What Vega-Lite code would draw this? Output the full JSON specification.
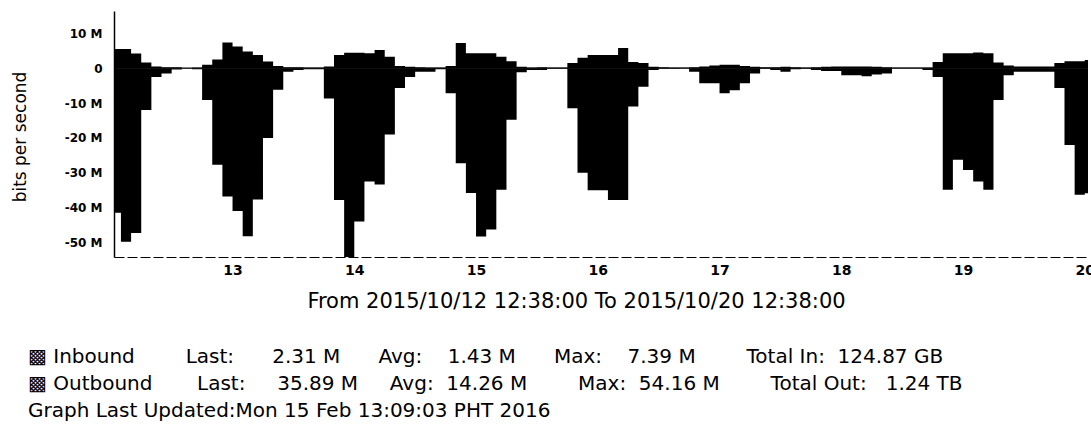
{
  "$schema": "https://vega.github.io/schema/vega-lite/v6.json",
  "width": 974,
  "height": 246,
  "autosize": {"type": "none"},
  "padding": {"left": 114, "top": 11, "right": 3, "bottom": 168},
  "background": "white",
  "config": {"font": "DejaVu Sans", "view": {"stroke": null}},
  "title": {
    "text": [
      "▩\u00a0Inbound\u00a0\u00a0\u00a0\u00a0\u00a0\u00a0\u00a0\u00a0Last:\u00a0\u00a0\u00a0\u00a0\u00a0\u00a02.31\u00a0M\u00a0\u00a0\u00a0\u00a0\u00a0\u00a0Avg:\u00a0\u00a0\u00a0\u00a01.43\u00a0M\u00a0\u00a0\u00a0\u00a0\u00a0\u00a0Max:\u00a0\u00a0\u00a0\u00a07.39\u00a0M\u00a0\u00a0\u00a0\u00a0\u00a0\u00a0\u00a0\u00a0Total\u00a0In:\u00a0\u00a0124.87\u00a0GB",
      "▩\u00a0Outbound\u00a0\u00a0\u00a0\u00a0\u00a0\u00a0\u00a0Last:\u00a0\u00a0\u00a0\u00a0\u00a035.89\u00a0M\u00a0\u00a0\u00a0\u00a0\u00a0Avg:\u00a0\u00a014.26\u00a0M\u00a0\u00a0\u00a0\u00a0\u00a0\u00a0\u00a0\u00a0Max:\u00a0\u00a054.16\u00a0M\u00a0\u00a0\u00a0\u00a0\u00a0\u00a0\u00a0\u00a0Total\u00a0Out:\u00a0\u00a0\u00a01.24\u00a0TB",
      "\u00a0Graph Last Updated:Mon 15 Feb 13:09:03 PHT 2016"
    ],
    "orient": "bottom",
    "anchor": "start",
    "frame": "group",
    "dx": -86,
    "offset": 36,
    "fontSize": 20,
    "fontWeight": "normal",
    "font": "DejaVu Sans",
    "lineHeight": 27,
    "color": "black"
  },
  "datasets": {
    "outbound": [
      {"t": "2015-10-12T12:38", "v": -41.5},
      {"t": "2015-10-12T14:00", "v": -49.8},
      {"t": "2015-10-12T16:00", "v": -47.3},
      {"t": "2015-10-12T18:00", "v": -12},
      {"t": "2015-10-12T20:00", "v": -2.5},
      {"t": "2015-10-12T22:00", "v": -1.5},
      {"t": "2015-10-13T00:00", "v": -0.4},
      {"t": "2015-10-13T02:00", "v": -0.1},
      {"t": "2015-10-13T04:00", "v": -0.3},
      {"t": "2015-10-13T06:00", "v": -9.1},
      {"t": "2015-10-13T08:00", "v": -27.7},
      {"t": "2015-10-13T10:00", "v": -36.8},
      {"t": "2015-10-13T12:00", "v": -41},
      {"t": "2015-10-13T14:00", "v": -48.2},
      {"t": "2015-10-13T16:00", "v": -37.7},
      {"t": "2015-10-13T18:00", "v": -20},
      {"t": "2015-10-13T20:00", "v": -6.2},
      {"t": "2015-10-13T22:00", "v": -1},
      {"t": "2015-10-14T00:00", "v": -0.5},
      {"t": "2015-10-14T02:00", "v": -0.3},
      {"t": "2015-10-14T04:00", "v": -0.3},
      {"t": "2015-10-14T06:00", "v": -8.7},
      {"t": "2015-10-14T08:00", "v": -37.8},
      {"t": "2015-10-14T10:00", "v": -54.16},
      {"t": "2015-10-14T12:00", "v": -44},
      {"t": "2015-10-14T14:00", "v": -32.5},
      {"t": "2015-10-14T16:00", "v": -33.4},
      {"t": "2015-10-14T18:00", "v": -19},
      {"t": "2015-10-14T20:00", "v": -5.7},
      {"t": "2015-10-14T22:00", "v": -2.5},
      {"t": "2015-10-15T00:00", "v": -1},
      {"t": "2015-10-15T02:00", "v": -1},
      {"t": "2015-10-15T04:00", "v": -0.3},
      {"t": "2015-10-15T06:00", "v": -7.2},
      {"t": "2015-10-15T08:00", "v": -27.3},
      {"t": "2015-10-15T10:00", "v": -35.8},
      {"t": "2015-10-15T12:00", "v": -48.3},
      {"t": "2015-10-15T14:00", "v": -46.3},
      {"t": "2015-10-15T16:00", "v": -34.9},
      {"t": "2015-10-15T18:00", "v": -14.8},
      {"t": "2015-10-15T20:00", "v": -1.2},
      {"t": "2015-10-15T22:00", "v": -0.5},
      {"t": "2015-10-16T00:00", "v": -0.5},
      {"t": "2015-10-16T02:00", "v": -0.2},
      {"t": "2015-10-16T04:00", "v": -0.2},
      {"t": "2015-10-16T06:00", "v": -11.5},
      {"t": "2015-10-16T08:00", "v": -30},
      {"t": "2015-10-16T10:00", "v": -35},
      {"t": "2015-10-16T12:00", "v": -35},
      {"t": "2015-10-16T14:00", "v": -37.8},
      {"t": "2015-10-16T16:00", "v": -37.8},
      {"t": "2015-10-16T18:00", "v": -11},
      {"t": "2015-10-16T20:00", "v": -5.3},
      {"t": "2015-10-16T22:00", "v": -0.5},
      {"t": "2015-10-17T00:00", "v": -0.2},
      {"t": "2015-10-17T02:00", "v": -0.2},
      {"t": "2015-10-17T04:00", "v": -0.1},
      {"t": "2015-10-17T06:00", "v": -1},
      {"t": "2015-10-17T08:00", "v": -4.3},
      {"t": "2015-10-17T10:00", "v": -4.3},
      {"t": "2015-10-17T12:00", "v": -7.2},
      {"t": "2015-10-17T14:00", "v": -6.3},
      {"t": "2015-10-17T16:00", "v": -4.3},
      {"t": "2015-10-17T18:00", "v": -1.5},
      {"t": "2015-10-17T20:00", "v": -0.2},
      {"t": "2015-10-17T22:00", "v": -0.5},
      {"t": "2015-10-18T00:00", "v": -1},
      {"t": "2015-10-18T02:00", "v": -0.3},
      {"t": "2015-10-18T04:00", "v": -0.2},
      {"t": "2015-10-18T06:00", "v": -0.5},
      {"t": "2015-10-18T08:00", "v": -0.8},
      {"t": "2015-10-18T10:00", "v": -0.8},
      {"t": "2015-10-18T12:00", "v": -2},
      {"t": "2015-10-18T14:00", "v": -2},
      {"t": "2015-10-18T16:00", "v": -2.3},
      {"t": "2015-10-18T18:00", "v": -1.8},
      {"t": "2015-10-18T20:00", "v": -1.5},
      {"t": "2015-10-18T22:00", "v": -0.1},
      {"t": "2015-10-19T00:00", "v": -0.1},
      {"t": "2015-10-19T02:00", "v": -0.1},
      {"t": "2015-10-19T04:00", "v": -0.5},
      {"t": "2015-10-19T06:00", "v": -2.5},
      {"t": "2015-10-19T08:00", "v": -34.9},
      {"t": "2015-10-19T10:00", "v": -26.3},
      {"t": "2015-10-19T12:00", "v": -29.2},
      {"t": "2015-10-19T14:00", "v": -32.5},
      {"t": "2015-10-19T16:00", "v": -34.9},
      {"t": "2015-10-19T18:00", "v": -9.1},
      {"t": "2015-10-19T20:00", "v": -2},
      {"t": "2015-10-19T22:00", "v": -1},
      {"t": "2015-10-20T00:00", "v": -1},
      {"t": "2015-10-20T02:00", "v": -1},
      {"t": "2015-10-20T04:00", "v": -1},
      {"t": "2015-10-20T06:00", "v": -5.7},
      {"t": "2015-10-20T08:00", "v": -22},
      {"t": "2015-10-20T10:00", "v": -36.3},
      {"t": "2015-10-20T12:00", "v": -35.89},
      {"t": "2015-10-20T12:38", "v": -35.89}
    ],
    "inbound": [
      {"t": "2015-10-12T12:38", "v": 5.5},
      {"t": "2015-10-12T14:00", "v": 5.5},
      {"t": "2015-10-12T16:00", "v": 4.2},
      {"t": "2015-10-12T18:00", "v": 1.6},
      {"t": "2015-10-12T20:00", "v": 0.5},
      {"t": "2015-10-12T22:00", "v": 0.3},
      {"t": "2015-10-13T00:00", "v": 0.3},
      {"t": "2015-10-13T02:00", "v": 0.1},
      {"t": "2015-10-13T04:00", "v": 0.2},
      {"t": "2015-10-13T06:00", "v": 1.0},
      {"t": "2015-10-13T08:00", "v": 2.5},
      {"t": "2015-10-13T10:00", "v": 7.39},
      {"t": "2015-10-13T12:00", "v": 6.2},
      {"t": "2015-10-13T14:00", "v": 4.8},
      {"t": "2015-10-13T16:00", "v": 3.8},
      {"t": "2015-10-13T18:00", "v": 1.9},
      {"t": "2015-10-13T20:00", "v": 0.6},
      {"t": "2015-10-13T22:00", "v": 0.3},
      {"t": "2015-10-14T00:00", "v": 0.3},
      {"t": "2015-10-14T02:00", "v": 0.2},
      {"t": "2015-10-14T04:00", "v": 0.2},
      {"t": "2015-10-14T06:00", "v": 0.5},
      {"t": "2015-10-14T08:00", "v": 3.8},
      {"t": "2015-10-14T10:00", "v": 4.4},
      {"t": "2015-10-14T12:00", "v": 4.4},
      {"t": "2015-10-14T14:00", "v": 4.3},
      {"t": "2015-10-14T16:00", "v": 5.2},
      {"t": "2015-10-14T18:00", "v": 3.3},
      {"t": "2015-10-14T20:00", "v": 0.6},
      {"t": "2015-10-14T22:00", "v": 0.4},
      {"t": "2015-10-15T00:00", "v": 0.3},
      {"t": "2015-10-15T02:00", "v": 0.2},
      {"t": "2015-10-15T04:00", "v": 0.2},
      {"t": "2015-10-15T06:00", "v": 0.6},
      {"t": "2015-10-15T08:00", "v": 7.2},
      {"t": "2015-10-15T10:00", "v": 4.3},
      {"t": "2015-10-15T12:00", "v": 4.3},
      {"t": "2015-10-15T14:00", "v": 4.3},
      {"t": "2015-10-15T16:00", "v": 3.3},
      {"t": "2015-10-15T18:00", "v": 2.0},
      {"t": "2015-10-15T20:00", "v": 0.4},
      {"t": "2015-10-15T22:00", "v": 0.2},
      {"t": "2015-10-16T00:00", "v": 0.3},
      {"t": "2015-10-16T02:00", "v": 0.2},
      {"t": "2015-10-16T04:00", "v": 0.2},
      {"t": "2015-10-16T06:00", "v": 1.5},
      {"t": "2015-10-16T08:00", "v": 3.0},
      {"t": "2015-10-16T10:00", "v": 3.8},
      {"t": "2015-10-16T12:00", "v": 3.8},
      {"t": "2015-10-16T14:00", "v": 3.8},
      {"t": "2015-10-16T16:00", "v": 5.8},
      {"t": "2015-10-16T18:00", "v": 1.8},
      {"t": "2015-10-16T20:00", "v": 1.5},
      {"t": "2015-10-16T22:00", "v": 0.4},
      {"t": "2015-10-17T00:00", "v": 0.3},
      {"t": "2015-10-17T02:00", "v": 0.2},
      {"t": "2015-10-17T04:00", "v": 0.2},
      {"t": "2015-10-17T06:00", "v": 0.3},
      {"t": "2015-10-17T08:00", "v": 0.5},
      {"t": "2015-10-17T10:00", "v": 0.8},
      {"t": "2015-10-17T12:00", "v": 1.0},
      {"t": "2015-10-17T14:00", "v": 1.0},
      {"t": "2015-10-17T16:00", "v": 0.6},
      {"t": "2015-10-17T18:00", "v": 0.4},
      {"t": "2015-10-17T20:00", "v": 0.3},
      {"t": "2015-10-17T22:00", "v": 0.3},
      {"t": "2015-10-18T00:00", "v": 0.4},
      {"t": "2015-10-18T02:00", "v": 0.3},
      {"t": "2015-10-18T04:00", "v": 0.2},
      {"t": "2015-10-18T06:00", "v": 0.3},
      {"t": "2015-10-18T08:00", "v": 0.4},
      {"t": "2015-10-18T10:00", "v": 0.5},
      {"t": "2015-10-18T12:00", "v": 0.5},
      {"t": "2015-10-18T14:00", "v": 0.5},
      {"t": "2015-10-18T16:00", "v": 0.5},
      {"t": "2015-10-18T18:00", "v": 0.4},
      {"t": "2015-10-18T20:00", "v": 0.3},
      {"t": "2015-10-18T22:00", "v": 0.2},
      {"t": "2015-10-19T00:00", "v": 0.2},
      {"t": "2015-10-19T02:00", "v": 0.2},
      {"t": "2015-10-19T04:00", "v": 0.2},
      {"t": "2015-10-19T06:00", "v": 1.8},
      {"t": "2015-10-19T08:00", "v": 4.3},
      {"t": "2015-10-19T10:00", "v": 4.3},
      {"t": "2015-10-19T12:00", "v": 4.3},
      {"t": "2015-10-19T14:00", "v": 4.5},
      {"t": "2015-10-19T16:00", "v": 4.3},
      {"t": "2015-10-19T18:00", "v": 1.6},
      {"t": "2015-10-19T20:00", "v": 0.8},
      {"t": "2015-10-19T22:00", "v": 0.5},
      {"t": "2015-10-20T00:00", "v": 0.5},
      {"t": "2015-10-20T02:00", "v": 0.5},
      {"t": "2015-10-20T04:00", "v": 0.5},
      {"t": "2015-10-20T06:00", "v": 1.5},
      {"t": "2015-10-20T08:00", "v": 2.0},
      {"t": "2015-10-20T10:00", "v": 2.0},
      {"t": "2015-10-20T12:00", "v": 2.31},
      {"t": "2015-10-20T12:38", "v": 2.31}
    ]
  },
  "layer": [
    {
      "data": {"name": "outbound"},
      "mark": {"type": "area", "interpolate": "step-after", "color": "black", "opacity": 1},
      "encoding": {
        "x": {
          "field": "t",
          "type": "temporal",
          "scale": {
            "domain": [
              {"year": 2015, "month": 10, "date": 12, "hours": 12, "minutes": 38},
              {"year": 2015, "month": 10, "date": 20, "hours": 12, "minutes": 38}
            ]
          },
          "axis": {
            "values": [
              {"year": 2015, "month": 10, "date": 13, "hours": 12},
              {"year": 2015, "month": 10, "date": 14, "hours": 12},
              {"year": 2015, "month": 10, "date": 15, "hours": 12},
              {"year": 2015, "month": 10, "date": 16, "hours": 12},
              {"year": 2015, "month": 10, "date": 17, "hours": 12},
              {"year": 2015, "month": 10, "date": 18, "hours": 12},
              {"year": 2015, "month": 10, "date": 19, "hours": 12},
              {"year": 2015, "month": 10, "date": 20, "hours": 12}
            ],
            "format": "%d",
            "labelFontSize": 14,
            "labelFontWeight": "bold",
            "labelColor": "black",
            "labelPadding": 6,
            "labelFlush": false,
            "labelOverlap": false,
            "ticks": false,
            "tickSize": 0,
            "grid": false,
            "domainColor": "black",
            "domainDash": [10, 3],
            "title": "From 2015/10/12 12:38:00 To 2015/10/20 12:38:00",
            "titleFontSize": 21,
            "titleFontWeight": "normal",
            "titleColor": "black",
            "titleX": 462,
            "titleY": 50,
            "titleBaseline": "alphabetic",
            "titleAlign": "center"
          }
        },
        "y": {
          "field": "v",
          "type": "quantitative",
          "scale": {"domain": [-54.16, 16.4], "nice": false, "zero": false},
          "axis": {
            "values": [-50, -40, -30, -20, -10, 0, 10],
            "labelExpr": "datum.value == 0 ? '0' : datum.value + ' M'",
            "labelFontSize": 12,
            "labelFontWeight": "bold",
            "labelColor": "black",
            "labelPadding": 12,
            "ticks": false,
            "tickSize": 0,
            "grid": false,
            "domainColor": "black",
            "domainWidth": 1.5,
            "title": "bits per second",
            "titleFontSize": 17,
            "titleFontWeight": "normal",
            "titleColor": "black",
            "titleAngle": 270,
            "titleX": -89,
            "titleY": 125.5,
            "titleBaseline": "alphabetic",
            "titleAlign": "center"
          }
        }
      }
    },
    {
      "data": {"name": "inbound"},
      "mark": {"type": "area", "interpolate": "step-after", "color": "black", "opacity": 1},
      "encoding": {
        "x": {"field": "t", "type": "temporal"},
        "y": {"field": "v", "type": "quantitative"}
      }
    },
    {
      "data": {"values": [{"v": 0}]},
      "mark": {"type": "rule", "color": "black", "strokeWidth": 1},
      "encoding": {
        "y": {"field": "v", "type": "quantitative"}
      }
    }
  ]
}
